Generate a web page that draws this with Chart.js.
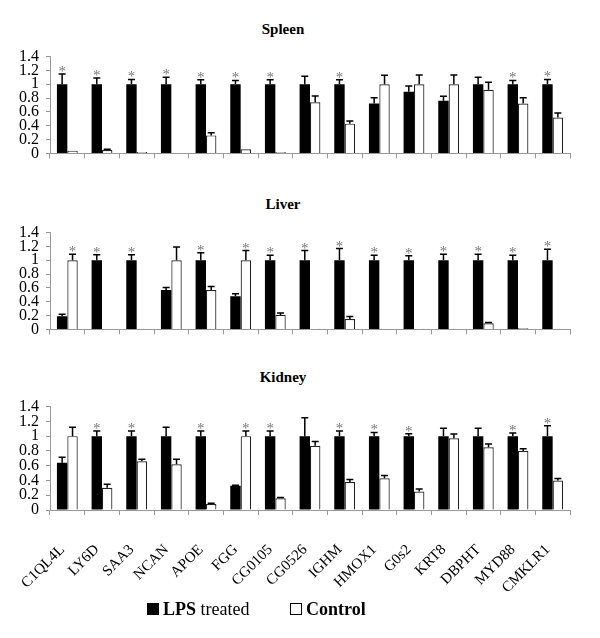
<!DOCTYPE html>
<html>
<head>
<meta charset="utf-8">
<script src="https://cdn.jsdelivr.net/npm/chart.js@4"></script>
<style>
  body { margin: 0; background: #fff; }
  #page { position: relative; width: 600px; height: 638px; font-family: "Times New Roman", "Liberation Serif", serif; }
  .box { position: absolute; left: 0; width: 600px; }
  .ttl { position: absolute; left: 233px; width: 100px; text-align: center; font-weight: bold; font-size: 15px; line-height: 15px; font-family: "Times New Roman", "Liberation Serif", serif; }
  .sq { position: absolute; width: 12px; height: 12px; box-sizing: border-box; }
  .lg { position: absolute; font-size: 18px; line-height: 18px; white-space: nowrap; font-family: "Times New Roman", "Liberation Serif", serif; }
</style>
</head>
<body>
<div id="page">
  <div class="ttl" style="top:22px">Spleen</div>
  <div class="box" style="top:40px;height:130px"><canvas id="spleen"></canvas></div>
  <div class="ttl" style="top:197px">Liver</div>
  <div class="box" style="top:216px;height:130px"><canvas id="liver"></canvas></div>
  <div class="ttl" style="top:370px">Kidney</div>
  <div class="box" style="top:390px;height:210px"><canvas id="kidney"></canvas></div>

  <div class="sq" style="left:147px;top:603px;background:#000"></div>
  <div class="lg" style="left:163px;top:600px"><b>LPS</b> treated</div>
  <div class="sq" style="left:290px;top:603px;border:1px solid #000;background:#fff"></div>
  <div class="lg" style="left:306px;top:600px"><b>Control</b></div>
</div>

<script>
let genes = ["C1QL4L", "LY6D", "SAA3", "NCAN", "APOE", "FGG", "CG0105", "CG0526",
  "IGHM", "HMOX1", "G0s2", "KRT8", "DBPHT", "MYD88", "CMKLR1"]

// Spleen
let spleenLps = [1, 1, 1, 1, 1, 1, 1, 1, 1, 0.72, 0.89, 0.76, 1, 1, 1]
let spleenLpsErr = [0.15, 0.09, 0.07, 0.1, 0.065, 0.055, 0.065, 0.115, 0.065, 0.085, 0.085, 0.065, 0.1, 0.055, 0.07]
let spleenCtrl = [0.04, 0.05, 0.02, 0.005, 0.26, 0.06, 0.02, 0.74, 0.43, 1, 1, 1, 0.92, 0.72, 0.52]
let spleenCtrlErr = [0, 0.01, 0, 0, 0.04, 0, 0, 0.09, 0.04, 0.13, 0.135, 0.135, 0.11, 0.085, 0.065]
let spleenStars = ["L", "L", "L", "L", "L", "L", "L", "", "L", "", "", "", "", "L", "L"]

// Liver
let liverLps = [0.19, 1, 1, 0.57, 1, 0.48, 1, 1, 1, 1, 1, 1, 1, 1, 1]
let liverLpsErr = [0.03, 0.08, 0.08, 0.035, 0.11, 0.035, 0.073, 0.14, 0.17, 0.073, 0.065, 0.086, 0.086, 0.073, 0.16]
let liverCtrl = [1, 0.005, 0.003, 1, 0.57, 1, 0.21, 0.01, 0.15, 0.003, 0.01, 0.005, 0.09, 0.015, 0.003]
let liverCtrlErr = [0.086, 0, 0, 0.19, 0.05, 0.14, 0.026, 0, 0.035, 0, 0, 0, 0.01, 0, 0]
let liverStars = ["C", "L", "L", "", "L", "C", "L", "L", "L", "L", "L", "L", "L", "L", "L"]

// Kidney
let kidneyLps = [0.64, 1, 1, 1, 1, 0.33, 1, 1, 1, 1, 1, 1, 1, 1, 1]
let kidneyLpsErr = [0.073, 0.068, 0.068, 0.12, 0.068, 0.005, 0.068, 0.25, 0.068, 0.05, 0.034, 0.107, 0.107, 0.043, 0.14]
let kidneyCtrl = [1, 0.3, 0.66, 0.62, 0.08, 1, 0.16, 0.87, 0.38, 0.43, 0.25, 0.97, 0.85, 0.8, 0.4]
let kidneyCtrlErr = [0.12, 0.05, 0.026, 0.068, 0.01, 0.068, 0.01, 0.056, 0.034, 0.038, 0.034, 0.06, 0.043, 0.03, 0.026]
let kidneyStars = ["", "L", "L", "", "L", "C", "L", "", "L", "L", "L", "", "", "L", "L"]

let yTicks = [0, 0.2, 0.4, 0.6, 0.8, 1, 1.2, 1.4]

let serif = "'Times New Roman', 'Liberation Serif', serif"

// draws the one-sided error bars and the significance stars
let errorBars = {
  id: "errorBars",
  afterDatasetsDraw(chart, args, opts) {
    let ctx = chart.ctx
    let y = chart.scales.y
    ctx.save()
    chart.data.datasets.forEach((ds, di) => {
      let meta = chart.getDatasetMeta(di)
      meta.data.forEach((bar, i) => {
        let top = ds.data[i] + ds.err[i]
        let yTop = y.getPixelForValue(top)
        if (ds.err[i] > 0) {
          ctx.strokeStyle = "#000"
          ctx.lineWidth = 1.5
          ctx.beginPath()
          ctx.moveTo(bar.x, bar.y)
          ctx.lineTo(bar.x, yTop)
          ctx.moveTo(bar.x - 3.5, yTop)
          ctx.lineTo(bar.x + 3.5, yTop)
          ctx.stroke()
        }
        if (opts.stars[i] === ds.star) {
          ctx.fillStyle = "#777"
          ctx.font = "15px " + serif
          ctx.textAlign = "center"
          ctx.textBaseline = "alphabetic"
          ctx.fillText("*", bar.x, yTop + 2)
        }
      })
    })
    ctx.restore()
  }
}

function creaGrafico(id, lps, lpsErr, ctrl, ctrlErr, stars, showLabels) {
  let el = document.querySelector("#" + id).getContext("2d")
  return new Chart(el, {
    type: "bar",
    data: {
      labels: genes,
      datasets: [
        {
          label: "LPS treated",
          data: lps,
          err: lpsErr,
          star: "L",
          backgroundColor: "#000",
          borderColor: "#000",
          borderWidth: 0,
          categoryPercentage: 0.6,
          barPercentage: 1,
        },
        {
          label: "Control",
          data: ctrl,
          err: ctrlErr,
          star: "C",
          backgroundColor: "#fff",
          borderColor: "#222",
          borderWidth: 1.2,
          categoryPercentage: 0.6,
          barPercentage: 1,
        },
      ],
    },
    options: {
      responsive: true,
      maintainAspectRatio: false,
      animation: false,
      layout: { padding: { left: 0, right: 30, top: 12, bottom: 0 } },
      scales: {
        x: {
          grid: { drawOnChartArea: false, drawTicks: true, tickLength: 5, color: "#999", offset: true },
          border: { color: "#999", width: 1 },
          ticks: {
            display: showLabels,
            color: "#000",
            font: { family: serif, size: 15 },
            minRotation: 45,
            maxRotation: 45,
            padding: 26,
            labelOffset: -5,
            autoSkip: false,
          },
          afterFit: (s) => { s.height = showLabels ? 90 : 10 },
        },
        y: {
          min: 0,
          max: 1.4,
          afterBuildTicks: (s) => { s.ticks = yTicks.map((v) => ({ value: v })) },
          grid: { drawOnChartArea: false, drawTicks: true, tickLength: 4, color: "#999" },
          border: { color: "#999", width: 1 },
          ticks: {
            color: "#000",
            font: { family: serif, size: 16 },
            padding: 7,
            autoSkip: false,
            callback: (v) => String(v),
          },
          afterFit: (s) => { s.width = 50 },
        },
      },
      plugins: {
        legend: { display: false },
        tooltip: { enabled: false },
        errorBars: { stars: stars },
      },
    },
    plugins: [errorBars],
  })
}

creaGrafico("spleen", spleenLps, spleenLpsErr, spleenCtrl, spleenCtrlErr, spleenStars, false)
creaGrafico("liver", liverLps, liverLpsErr, liverCtrl, liverCtrlErr, liverStars, false)
creaGrafico("kidney", kidneyLps, kidneyLpsErr, kidneyCtrl, kidneyCtrlErr, kidneyStars, true)
</script>
</body>
</html>
